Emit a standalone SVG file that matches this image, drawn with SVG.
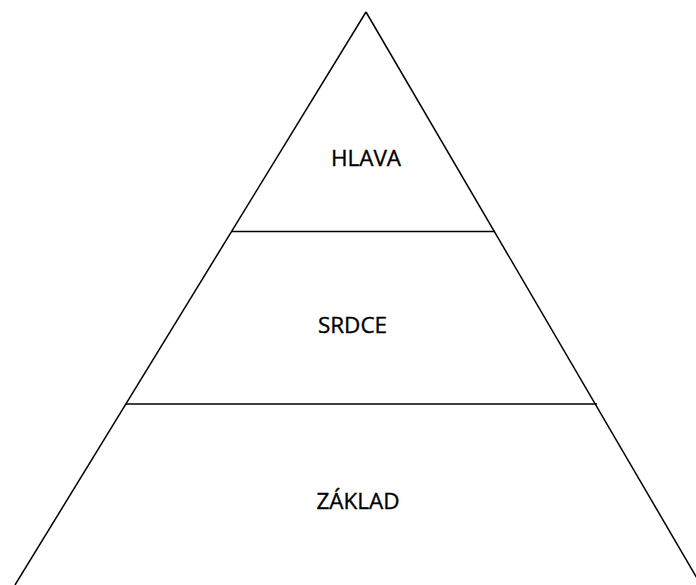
<svg xmlns="http://www.w3.org/2000/svg" width="696" height="585" viewBox="0 0 696 585">
<style>
.edge{stroke:#000;stroke-width:1.5;fill:none}
.lbl{font-family:"Open Sans","Liberation Sans",sans-serif;font-size:22.5px;fill:#000;stroke:#000;stroke-width:0.35;text-anchor:middle}
</style>
<rect width="696" height="585" fill="#fff"/>
<g id="connectors">
<line class="edge" x1="366" y1="12" x2="15" y2="585"/>
<line class="edge" x1="366" y1="12" x2="701" y2="585"/>
<line class="edge" x1="231" y1="231.5" x2="495" y2="231.5"/>
<line class="edge" x1="126" y1="404" x2="597" y2="404" stroke="#333"/>
</g>
<g id="hlava"><text class="lbl" x="366" y="165.5">HLAVA</text></g>
<g id="srdce"><text class="lbl" x="352.5" y="332.5">SRDCE</text></g>
<g id="zaklad"><text class="lbl" x="358" y="508.5">ZÁKLAD</text></g>
</svg>
